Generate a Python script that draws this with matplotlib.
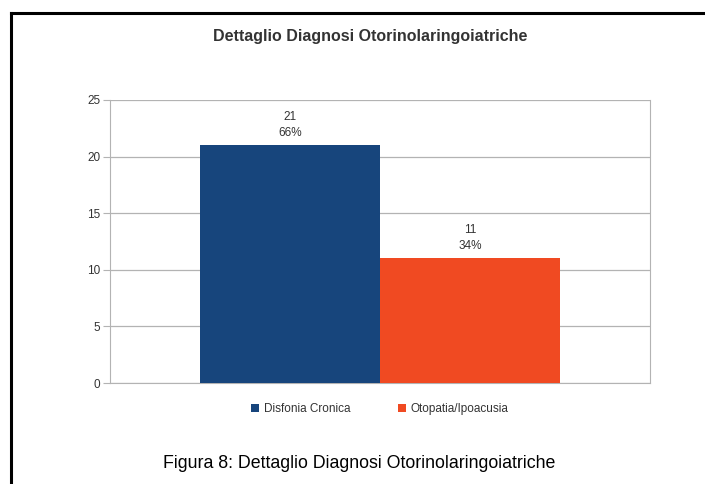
import matplotlib.pyplot as plt
from matplotlib.lines import Line2D

plt.rcParams['font.family'] = ['Liberation Sans', 'DejaVu Sans']

series = ['Disfonia Cronica', 'Otopatia/Ipoacusia']
values = [21, 11]
percents = ['66%', '34%']
colors = ['#17457c', '#f04a22']

fig = plt.figure(figsize=(7.05, 4.84), dpi=100)
ax = fig.add_axes([110/705, 1 - 383/484, 540/705, 283/484])

width = 0.5
offsets = [-0.25, 0.25]
for name, v, p, c, off in zip(series, values, percents, colors, offsets):
    ax.bar(off, v, width=width, color=c, label=name, zorder=3)
    ax.text(off, v + 0.55, f'{v}\n{p}', ha='center', va='bottom',
            fontsize=8.5, color='#333333', linespacing=1.45)

ax.set_xlim(-0.75, 0.75)
ax.set_ylim(0, 25)
ax.set_yticks([0, 5, 10, 15, 20, 25])
ax.set_xticks([])
ax.yaxis.grid(True, color='#b3b3b3', lw=0.9, zorder=0)
for s in ['left', 'right', 'bottom']:
    ax.spines[s].set_color('#b3b3b3')
ax.spines['top'].set_visible(False)
ax.tick_params(axis='y', length=5, color='#b3b3b3', labelsize=8.5,
               labelcolor='#333333', pad=2)

fig.text(370/705, 1 - 37/484, 'Dettaglio Diagnosi Otorinolaringoiatriche',
         ha='center', va='center', fontsize=11.5, fontweight='bold', color='#333333')

leg = fig.legend(loc='center', bbox_to_anchor=(380/705, 1 - 409/484), ncol=2,
                 frameon=False, fontsize=8.5, handlelength=0.7, handleheight=0.7,
                 handletextpad=0.4, columnspacing=4.0)
for t in leg.get_texts():
    t.set_color('#333333')

fig.text(359/705, 1 - 464/484, 'Figura 8: Dettaglio Diagnosi Otorinolaringoiatriche',
         ha='center', va='center', fontsize=12.8, color='black')

# page frame (top and left edge)
fig.add_artist(Line2D([10.5/705, 1], [1 - 12.5/484, 1 - 12.5/484],
                      transform=fig.transFigure, color='black', lw=2.2))
fig.add_artist(Line2D([10.5/705, 10.5/705], [0, 1 - 12.5/484],
                      transform=fig.transFigure, color='black', lw=2.2))

fig.savefig('out.png', dpi=100)
